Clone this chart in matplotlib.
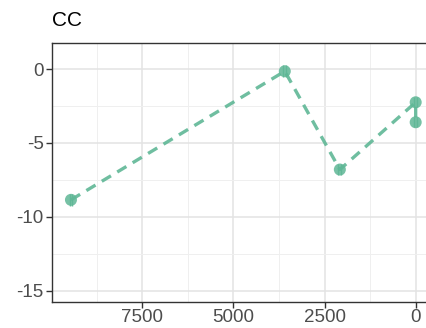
import matplotlib
matplotlib.use("Agg")
import matplotlib.pyplot as plt
from matplotlib.ticker import MultipleLocator

plt.rcParams['font.family'] = ['Liberation Sans', 'DejaVu Sans']
plt.rcParams['axes.unicode_minus'] = False

# data (age, value)
age = [9455, 3590, 2080, 0, 0]
value = [-8.85, -0.15, -6.8, -2.25, -3.6]
err = [0.4, 0.4, 0.4, 0.35, 0.35]
line_order = [0, 1, 2, 3, 4]

col = '#5fb796'

fig = plt.figure(figsize=(4.27, 3.28), dpi=100)
ax = fig.add_axes([52 / 427, 1 - 301.7 / 328, (433 - 52) / 427, (301.7 - 43) / 328])

xs = [age[i] for i in line_order]
ys = [value[i] for i in line_order]
ax.plot(xs, ys, color=col, lw=2.4, ls=(0, (3.2, 2.2)), alpha=0.9, zorder=3)
for dx in (-40, 40):
    ax.errorbar([a + dx for a in age], value, yerr=err, fmt='none',
                ecolor=col, elinewidth=1.0, capsize=0, alpha=0.9, zorder=3)
ax.scatter(age, value, s=75, color=col, alpha=0.85, edgecolors='none', zorder=4)

ax.set_xlim(9975, -475)
ax.set_ylim(-15.74, 1.76)
ax.xaxis.set_major_locator(MultipleLocator(2500))
ax.xaxis.set_minor_locator(MultipleLocator(1250))
ax.yaxis.set_major_locator(MultipleLocator(5))
ax.yaxis.set_minor_locator(MultipleLocator(2.5))
ax.grid(True, which='major', color='#e3e3e3', lw=1.1, zorder=0)
ax.grid(True, which='minor', color='#efefef', lw=0.7, zorder=0)
ax.set_axisbelow(True)
ax.tick_params(which='major', length=4, color='#333333', labelcolor='#4d4d4d',
               labelsize=13.5, width=1)
ax.tick_params(which='minor', length=0)
ax.tick_params(axis='x', pad=1)
ax.tick_params(axis='y', pad=2)
for s in ax.spines.values():
    s.set_color('#333333')
    s.set_linewidth(1.0)

fig.text(52 / 427, 1 - 21 / 328, 'CC', fontsize=15, va='center', ha='left', color='black')

fig.savefig('out.png', dpi=100)
